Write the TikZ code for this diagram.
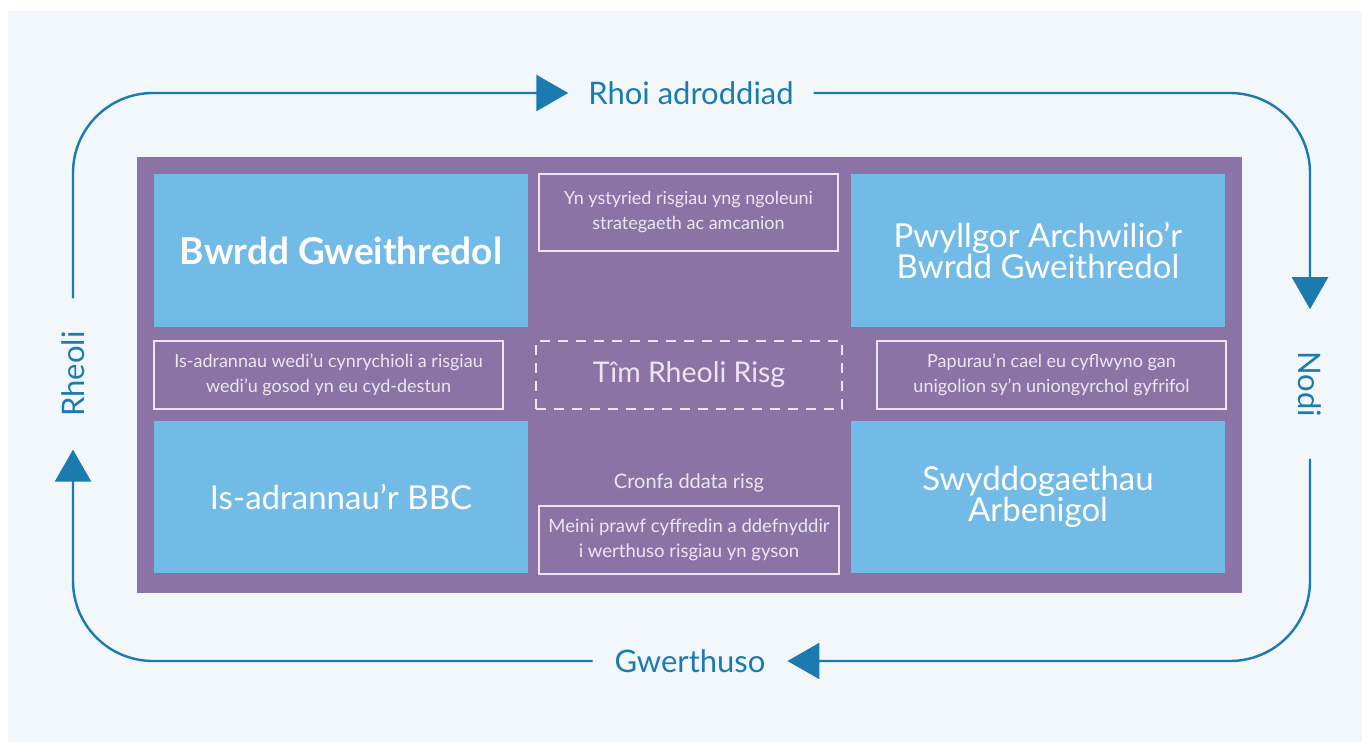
\documentclass[tikz,border=0pt]{standalone}
\usepackage{fontspec}
\setmainfont{Lato}
\usetikzlibrary{arrows.meta, positioning}

\definecolor{pagebg}{HTML}{F2F7FB}
\definecolor{loopblue}{HTML}{1C7BAE}
\definecolor{panelpurple}{HTML}{8B74A5}
\definecolor{boxblue}{HTML}{73BBE7}
\definecolor{softwhite}{HTML}{ECE6F2}

\begin{document}
\begin{tikzpicture}[
    x=1pt, y=-1pt,
    % Styles
    looplabel/.style={inner sep=0pt, outer sep=22pt, text=loopblue, font=\fontsize{31}{34}\selectfont},
    loopline/.style={draw=loopblue, line width=2.4pt, rounded corners=80pt, -{Triangle[length=32pt, width=36pt]}},
    unit/.style={fill=boxblue, minimum width=374pt, minimum height=153pt, inner sep=0pt, align=center, text=white, font=\fontsize{33}{31}\selectfont},
    note/.style={draw=softwhite, line width=1.2pt, minimum height=68pt, inner sep=0pt, align=center, text=softwhite, font=\fontsize{18}{25}\selectfont},
    team/.style={note, dashed, dash pattern=on 10pt off 8pt, font=\fontsize{28.5}{32}\selectfont}
]

    \useasboundingbox (0,0) rectangle (1370,742);
    \fill[pagebg] (8,11) rectangle (1362,742);

    % --- PANEL ---
    \node[fill=panelpurple, minimum width=1105pt, minimum height=436pt, inner sep=0pt] (panel) at (689.5,375) {};

    % --- UNITS ---
    \node[unit, font=\fontsize{37}{31}\selectfont\bfseries] (board) at (341,250.5) {Bwrdd Gweithredol};
    \node[unit] (audit) at (1038,250.5) {Pwyllgor Archwilio'r\\Bwrdd Gweithredol};
    \node[unit, minimum height=152pt] (divisions) at (341,497) {Is-adrannau'r BBC};
    \node[unit, minimum height=152pt] (specialist) at (1038,497) {Swyddogaethau\\Arbenigol};

    % --- NOTES ---
    \node[note, minimum width=299pt, minimum height=77pt] (strategy) at (688.5,212.5) {Yn ystyried risgiau yng ngoleuni\\strategaeth ac amcanion};
    \node[note, minimum width=349pt] (context) at (328.5,375) {Is-adrannau wedi'u cynrychioli a risgiau\\wedi'u gosod yn eu cyd-destun};
    \node[team, minimum width=306pt] (riskteam) at (689,375) {Tîm Rheoli Risg};
    \node[note, minimum width=349pt] (papers) at (1051.5,375) {Papurau'n cael eu cyflwyno gan\\unigolion sy'n uniongyrchol gyfrifol};
    \node[note, minimum width=300pt, font=\fontsize{18.5}{25}\selectfont] (criteria) at (689,540) {Meini prawf cyffredin a ddefnyddir\\i werthuso risgiau yn gyson};
    \node[text=softwhite, font=\fontsize{20}{25}\selectfont] (database) at (689,483) {Cronfa ddata risg};

    % --- LOOP LABELS ---
    \node[looplabel, outer sep=20pt] (report) at (691,93) {Rhoi adroddiad};
    \node[looplabel, rotate=-90, outer sep=42pt] (noting) at (1310,384) {Nodi};
    \node[looplabel] (evaluate) at (690,661) {Gwerthuso};
    \node[looplabel, rotate=90, outer sep=33pt] (manage) at (73,374) {Rheoli};

    % --- LOOP ---
    \draw[loopline] (manage.east) |- (report.west);
    \draw[loopline] (report.east) -| (noting.west);
    \draw[loopline] (noting.east) |- (evaluate.east);
    \draw[loopline] (evaluate.west) -| (manage.west);

\end{tikzpicture}
\end{document}
